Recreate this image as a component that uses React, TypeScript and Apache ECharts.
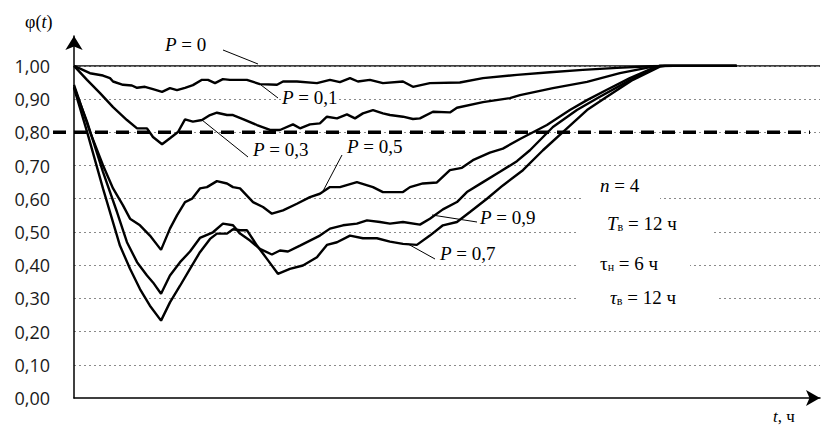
import React, { useEffect, useRef } from "react";
import * as echarts from "echarts";

// φ(t) for different P, pairs of [t, φ]
const curveP0: number[][] = [[0, 1.0], [51, 1.0]];

const curveP01: number[][] = [
  [0, 1.0], [1.09, 0.978], [1.98, 0.971], [2.46, 0.963], [2.67, 0.953], [3.35, 0.943], [3.96, 0.941],
  [4.31, 0.934], [4.85, 0.937], [5.4, 0.93], [6.02, 0.922], [6.56, 0.933], [7.04, 0.927], [7.59, 0.934],
  [8.13, 0.942], [8.75, 0.958], [9.16, 0.958], [9.64, 0.948], [10.18, 0.96], [10.66, 0.958], [11.82, 0.958],
  [12.71, 0.945], [13.88, 0.943], [14.29, 0.953], [15.24, 0.953], [16.61, 0.948], [17.5, 0.958], [18.18, 0.951],
  [18.87, 0.963], [19.41, 0.953], [20.23, 0.958], [21.12, 0.948], [22.49, 0.953], [23.17, 0.937], [24.33, 0.948],
  [26.38, 0.95], [27.96, 0.963], [30.28, 0.973], [32.54, 0.981], [34.79, 0.988], [37.12, 0.994], [39.4, 0.999],
  [41, 1.0], [45.3, 1.0],
];

const curveP03: number[][] = [
  [0, 1.0], [0.89, 0.958], [1.78, 0.918], [2.67, 0.876], [3.62, 0.837], [4.31, 0.812], [4.99, 0.812],
  [5.4, 0.786], [6.02, 0.764], [6.56, 0.782], [7.11, 0.801], [7.59, 0.839], [8.13, 0.832], [8.75, 0.837],
  [9.3, 0.852], [9.77, 0.859], [10.46, 0.852], [10.87, 0.852], [11.55, 0.84], [12.51, 0.822], [13.4, 0.807],
  [14.08, 0.807], [14.97, 0.824], [15.45, 0.812], [16.13, 0.824], [16.81, 0.827], [17.29, 0.847], [17.98, 0.842],
  [18.66, 0.854], [19.21, 0.842], [19.75, 0.857], [20.44, 0.867], [21.12, 0.857], [21.6, 0.852], [22.49, 0.847],
  [23.17, 0.84], [23.65, 0.842], [24.54, 0.862], [25.7, 0.86], [26.18, 0.874], [27.96, 0.891], [29.8, 0.903],
  [30.49, 0.912], [32.74, 0.933], [35.07, 0.952], [37.32, 0.978], [39.58, 0.998], [40.2, 1.0], [45.3, 1.0],
];

const curveP05: number[][] = [
  [0, 0.943], [1.09, 0.802], [1.98, 0.701], [2.67, 0.631], [3.35, 0.58], [3.83, 0.54], [4.51, 0.52],
  [5.19, 0.489], [5.95, 0.446], [6.56, 0.51], [7.04, 0.55], [7.59, 0.59], [8.07, 0.6], [8.61, 0.631],
  [9.09, 0.635], [9.77, 0.653], [10.46, 0.646], [10.87, 0.635], [11.35, 0.631], [12.24, 0.59], [12.92, 0.575],
  [13.53, 0.555], [14.29, 0.565], [15.24, 0.585], [16.13, 0.605], [16.81, 0.615], [17.5, 0.635], [18.18, 0.635],
  [19.34, 0.65], [20.44, 0.635], [21.12, 0.62], [22.49, 0.62], [22.97, 0.635], [23.85, 0.646], [24.81, 0.649],
  [25.7, 0.686], [26.52, 0.693], [27.27, 0.716], [28.43, 0.739], [29.32, 0.751], [30.49, 0.78], [32.33, 0.822],
  [33.9, 0.867], [35.07, 0.897], [36.43, 0.928], [38.0, 0.963], [39.58, 0.993], [40.05, 1.0], [45.3, 1.0],
];

const curveP09: number[][] = [
  [0, 0.937], [0.89, 0.832], [1.98, 0.681], [2.94, 0.56], [3.62, 0.469], [4.31, 0.409], [4.99, 0.369],
  [5.4, 0.348], [5.95, 0.314], [6.56, 0.369], [7.25, 0.409], [7.93, 0.441], [8.61, 0.482], [9.5, 0.499],
  [10.18, 0.525], [10.87, 0.52], [11.35, 0.495], [12.03, 0.474], [12.71, 0.449], [13.53, 0.432], [14.08, 0.444],
  [14.63, 0.441], [15.45, 0.459], [16.13, 0.474], [16.81, 0.489], [17.5, 0.51], [18.39, 0.52], [19.34, 0.525],
  [20.03, 0.535], [20.92, 0.53], [21.6, 0.525], [22.49, 0.53], [23.65, 0.522], [24.33, 0.54], [25.22, 0.568],
  [26.18, 0.59], [26.86, 0.62], [27.96, 0.65], [29.12, 0.681], [30.28, 0.713], [31.17, 0.746], [32.74, 0.816],
  [34.38, 0.867], [35.95, 0.907], [37.8, 0.952], [39.58, 0.993], [40.05, 1.0], [45.3, 1.0],
];

const curveP07: number[][] = [
  [0, 0.934], [0.89, 0.802], [1.98, 0.631], [3.14, 0.459], [3.83, 0.389], [4.51, 0.328], [5.19, 0.278],
  [5.95, 0.233], [6.56, 0.288], [7.25, 0.338], [7.93, 0.389], [8.61, 0.439], [9.3, 0.479], [9.77, 0.495],
  [10.46, 0.495], [10.87, 0.508], [11.35, 0.505], [11.83, 0.505], [12.51, 0.459], [13.19, 0.419], [13.94, 0.374],
  [14.76, 0.389], [15.65, 0.399], [16.61, 0.424], [17.29, 0.461], [17.98, 0.469], [18.87, 0.489], [19.75, 0.481],
  [20.71, 0.481], [21.6, 0.471], [22.49, 0.464], [23.44, 0.461], [24.33, 0.489], [25.22, 0.52], [26.18, 0.53],
  [27.07, 0.56], [28.23, 0.6], [29.32, 0.64], [30.69, 0.686], [32.06, 0.746], [33.7, 0.812], [35.07, 0.867],
  [36.43, 0.907], [38.21, 0.958], [40.05, 0.998], [40.4, 1.0], [45.3, 1.0],
];

// critical level (dashed line)
const thresholdLevel = 0.8;
const thresholdLine: number[][] = [[0, thresholdLevel], [1, thresholdLevel]];

const yTicks = { min: 0, max: 1.09, interval: 0.1 };
const tMax = 51;

const serif = "Liberation Serif";

const fontCss = `
#root svg text:not([style*="Open Sans"]):not([font-family*="Open Sans"]),
#root svg tspan:not([style*="Open Sans"]):not([font-family*="Open Sans"]) {
  font-family: "Liberation Serif", "Times New Roman", serif !important;
}
`;

function note(text: string, left: number, top: number, size = 19, bg?: string) {
  return {
    text,
    left,
    top,
    padding: 0,
    itemGap: 0,
    backgroundColor: bg || "transparent",
    z: 8,
    textStyle: {
      fontFamily: serif,
      fontSize: size,
      fontWeight: "normal",
      color: "#000",
      rich: {
        n: { fontFamily: serif, fontSize: size, fontWeight: "normal", color: "#000" },
        i: { fontFamily: serif, fontStyle: "italic", fontSize: size, fontWeight: "normal", color: "#000" },
        s: { fontFamily: serif, fontSize: 12, fontWeight: "normal", color: "#000", verticalAlign: "bottom" },
      },
    },
  };
}

function leader(x1: number, y1: number, x2: number, y2: number) {
  return {
    type: "line",
    z: 10,
    shape: { x1, y1, x2, y2 },
    style: { stroke: "#000", lineWidth: 1 },
  };
}

function whiteBox(x: number, y: number, width: number, height: number) {
  return {
    type: "rect",
    z: 1,
    shape: { x, y, width, height },
    style: { fill: "#fff" },
  };
}

function curveSeries(data: number[][], width = 2.4) {
  return {
    type: "line",
    xAxisIndex: 0,
    yAxisIndex: 0,
    data,
    showSymbol: false,
    symbol: "none",
    z: 3,
    lineStyle: { color: "#000", width },
  };
}

export default function App() {
  const ref = useRef<HTMLDivElement>(null);
  useEffect(() => {
    if (!ref.current) return;
    const chart = echarts.init(ref.current, null, { renderer: "svg" });
    const option: any = {
      animation: false,
      backgroundColor: "#fff",
      title: [
        note("φ({i|t})", 25, 13, 18),
        note("{i|P} = 0", 165, 35),
        note("{i|P} = 0,1", 282, 88, 19, "#fff"),
        note("{i|P} = 0,3", 253, 140),
        note("{i|P} = 0,5", 347, 137),
        note("{i|P} = 0,9", 480, 208),
        note("{i|P} = 0,7", 440, 244),
        note("{i|n} = 4", 600, 176),
        note("{i|T}{s|в} = 12 ч", 607, 214),
        note("τ{s|н} = 6 ч", 600, 254),
        note("{i|τ}{s|в} = 12 ч", 610, 288),
        note("{i|t}, ч", 773, 408, 17),
      ],
      grid: [
        { left: 74, right: 4, top: 36, bottom: 28 },
        { left: 53, right: 14, top: 36, bottom: 28 },
      ],
      xAxis: [
        {
          type: "value",
          gridIndex: 0,
          min: 0,
          max: tMax,
          axisLine: {
            show: true,
            symbol: ["none", "arrow"],
            symbolSize: [12, 14],
            lineStyle: { color: "#000", width: 1.5 },
          },
          axisTick: { show: false },
          axisLabel: { show: false },
          splitLine: { show: false },
        },
        { type: "value", gridIndex: 1, min: 0, max: 1, show: false },
      ],
      yAxis: [
        {
          type: "value",
          gridIndex: 0,
          min: yTicks.min,
          max: yTicks.max,
          interval: yTicks.interval,
          axisLine: {
            show: true,
            symbol: ["none", "arrow"],
            symbolSize: [13, 14],
            lineStyle: { color: "#000", width: 1.5 },
          },
          axisTick: { show: false },
          axisLabel: {
            margin: 24,
            color: "#1a1a1a",
            fontFamily: "Open Sans",
            fontSize: 18,
            formatter: (v: number) => (v > 1.001 ? "" : v.toFixed(2).replace(".", ",")),
          },
          splitLine: {
            show: true,
            showMinLine: false,
            showMaxLine: false,
            lineStyle: { color: "#8a8a8a", width: 1, type: [2, 3] },
          },
        },
        { type: "value", gridIndex: 1, min: yTicks.min, max: yTicks.max, show: false },
      ],
      series: [
        curveSeries(curveP0, 1.3),
        curveSeries(curveP01),
        curveSeries(curveP03),
        curveSeries(curveP05),
        curveSeries(curveP09),
        curveSeries(curveP07),
        {
          type: "line",
          xAxisIndex: 1,
          yAxisIndex: 1,
          data: thresholdLine,
          showSymbol: false,
          symbol: "none",
          z: 3,
          lineStyle: { color: "#000", width: 3.5, type: [13, 8] },
        },
      ],
      graphic: [
        whiteBox(583, 176, 77, 28),
        whiteBox(578, 212, 134, 28),
        whiteBox(576, 252, 114, 24),
        whiteBox(576, 286, 142, 24),
        leader(223, 50, 258, 64),
        leader(261, 85, 278, 98),
        leader(202, 120, 248, 157),
        leader(342, 155, 322, 193),
        leader(477, 222, 432, 215),
        leader(435, 259, 408, 244),
      ],
    };
    chart.setOption(option);
    return () => chart.dispose();
  }, []);
  return (
    <>
      <style>{fontCss}</style>
      <div
        ref={ref}
        style={{ position: "absolute", left: 0, top: 0, width: 824, height: 426 }}
      />
    </>
  );
}
